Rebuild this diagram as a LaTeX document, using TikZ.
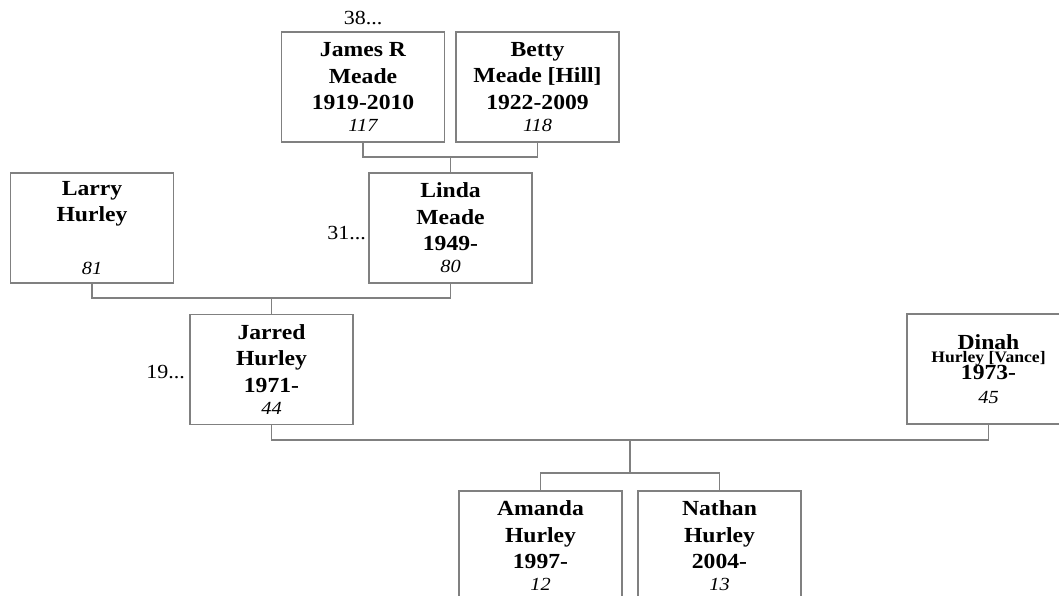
\documentclass[tikz,border=0pt]{standalone}
\usepackage{fontspec}
\setmainfont{Liberation Serif}[FakeStretch=1.1]
\begin{document}
\begin{tikzpicture}[x=1pt,y=-1pt,
  person/.style={draw=black!50, line width=1.2pt, minimum width=163pt, minimum height=110pt,
    inner sep=0pt, align=center, font={\fontsize{21.5}{26.5}\selectfont\bfseries}},
  conn/.style={draw=black!50, line width=1.2pt},
  gen/.style={inner sep=0pt, font={\fontsize{20}{24}\selectfont}}]
\useasboundingbox (0,0) rectangle (1059,596);
\clip (0,0) rectangle (1059,596);
\newcommand{\numl}[1]{{\fontsize{18.5}{22}\selectfont\mdseries\itshape #1}}
% persons
\node[person] (james) at (363,87) {James R\\Meade\\1919-2010\\[-4.5pt]\numl{117}};
\node[person] (betty) at (537.5,87) {Betty\\Meade [Hill]\\1922-2009\\[-4.5pt]\numl{118}};
\node[person] (larry) at (92,228) {Larry\\Hurley\\[26pt]\numl{81}};
\node[person] (linda) at (450.5,228) {Linda\\Meade\\1949-\\[-4.5pt]\numl{80}};
\node[person] (jarred) at (271.5,369.5) {Jarred\\Hurley\\1971-\\[-4.5pt]\numl{44}};
\node[person] (dinah) at (988.5,369) {Dinah\\[-13.5pt]{\fontsize{16}{20}\selectfont Hurley [Vance]}\\[-9.5pt]1973-\\[-2.5pt]\numl{45}};
\node[person] (amanda) at (540.5,546) {Amanda\\Hurley\\1997-\\[-4.5pt]\numl{12}};
\node[person] (nathan) at (719.5,546) {Nathan\\Hurley\\2004-\\[-4.5pt]\numl{13}};
% generation labels
\node[gen] (l38) at (363,18) {38...};
\node[gen, anchor=east] (l31) at (366,233) {31...};
\node[gen, anchor=east] (l19) at (185,372) {19...};
% bar levels
\coordinate (bar1) at (0,157);
\coordinate (bar2) at (0,298);
\coordinate (bar3) at (0,440);
\coordinate (bar4) at (0,473);
\coordinate (fam) at (630,440);
% connectors
\draw[conn] (james.south) -- (james.south |- bar1) -| (betty.south);
\draw[conn] (linda.north) -- (linda.north |- bar1);
\draw[conn] (larry.south) -- (larry.south |- bar2) -| (linda.south);
\draw[conn] (jarred.north) -- (jarred.north |- bar2);
\draw[conn] (jarred.south) -- (jarred.south |- bar3) -| (dinah.south);
\draw[conn] (fam) -- (fam |- bar4);
\draw[conn] (amanda.north) -- (amanda.north |- bar4) -| (nathan.north);
\end{tikzpicture}
\end{document}
